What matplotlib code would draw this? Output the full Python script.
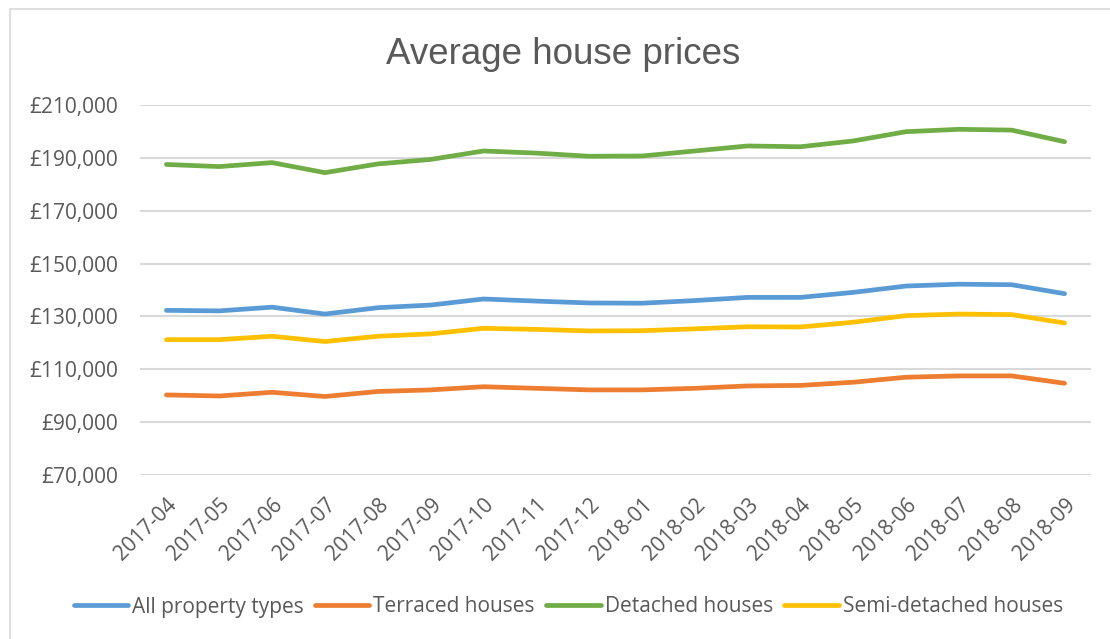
import matplotlib
matplotlib.use('Agg')
import matplotlib.pyplot as plt
from matplotlib.patches import Rectangle
from matplotlib.ticker import FuncFormatter

# Monthly average prices (GBP)
MONTHS = ['2017-04', '2017-05', '2017-06', '2017-07', '2017-08', '2017-09',
          '2017-10', '2017-11', '2017-12', '2018-01', '2018-02', '2018-03',
          '2018-04', '2018-05', '2018-06', '2018-07', '2018-08', '2018-09']

ALL_TYPES = [132300, 132100, 133500, 130900, 133300, 134300, 136600, 135800, 135100,
             135000, 136000, 137200, 137200, 139100, 141500, 142200, 142000, 138600]
TERRACED = [100300, 99900, 101300, 99700, 101600, 102200, 103400, 102800, 102200,
            102200, 102800, 103700, 103900, 105100, 107000, 107500, 107500, 104700]
DETACHED = [187500, 186700, 188200, 184400, 187700, 189400, 192600, 191800, 190600,
            190700, 192600, 194500, 194200, 196400, 199900, 200800, 200500, 196100]
SEMI_DETACHED = [121200, 121200, 122500, 120500, 122500, 123400, 125500, 125100, 124500,
                 124600, 125300, 126100, 126000, 127800, 130300, 130900, 130700, 127500]

SERIES = [
    ('All property types',   ALL_TYPES,     '#5B9BD5'),
    ('Terraced houses',      TERRACED,      '#ED7D31'),
    ('Detached houses',      DETACHED,      '#70AD47'),
    ('Semi-detached houses', SEMI_DETACHED, '#FFC000'),
]

TEXT_COLOR = '#595959'
GRID_COLOR = '#D9D9D9'
TICK_FONT = 'Open Sans'

fig = plt.figure(figsize=(11.1, 6.39), dpi=100)
ax = fig.add_axes([140 / 1110, 1 - 475 / 639, (1091 - 140) / 1110, (475 - 105) / 639])

x = list(range(len(MONTHS)))
for name, vals, color in SERIES:
    ax.plot(x, vals, color=color, lw=3.4, solid_capstyle='round',
            solid_joinstyle='round', label=name)

ax.set_xlim(-0.5, len(MONTHS) - 0.5)
ax.set_ylim(70000, 210000)
ax.set_yticks(range(70000, 210001, 20000))
ax.yaxis.set_major_formatter(FuncFormatter(lambda v, _: f'£{v:,.0f}'))
ax.set_xticks(x)
ax.set_xticklabels(MONTHS, rotation=45, ha='right', rotation_mode='anchor')

ax.grid(axis='y', color=GRID_COLOR, lw=1.5)
ax.set_axisbelow(True)
for s in ax.spines.values():
    s.set_visible(False)
ax.tick_params(length=0, colors=TEXT_COLOR, labelsize=15)
ax.tick_params(axis='y', pad=16)
ax.tick_params(axis='x', pad=14)
for lbl in ax.get_xticklabels() + ax.get_yticklabels():
    lbl.set_fontfamily(TICK_FONT)

fig.text(0.5077, 1 - 64 / 639, 'Average house prices', ha='center', va='baseline',
         fontsize=26.5, color=TEXT_COLOR, family='Liberation Sans')

leg = fig.legend(loc='center', bbox_to_anchor=(0.512, 1 - 607 / 639), ncol=4,
                 frameon=False, handlelength=2.6, handletextpad=0.2,
                 columnspacing=0.55, prop={'family': TICK_FONT, 'size': 15})
for t in leg.get_texts():
    t.set_color(TEXT_COLOR)

# light chart border (only top/left edges fall inside the picture)
fig.patches.append(Rectangle((10 / 1110, -0.1), 1.2, 1 - 9 / 639 + 0.1,
                             transform=fig.transFigure, fill=False,
                             edgecolor=GRID_COLOR, lw=1.2))

fig.savefig('out.png', dpi=100)
